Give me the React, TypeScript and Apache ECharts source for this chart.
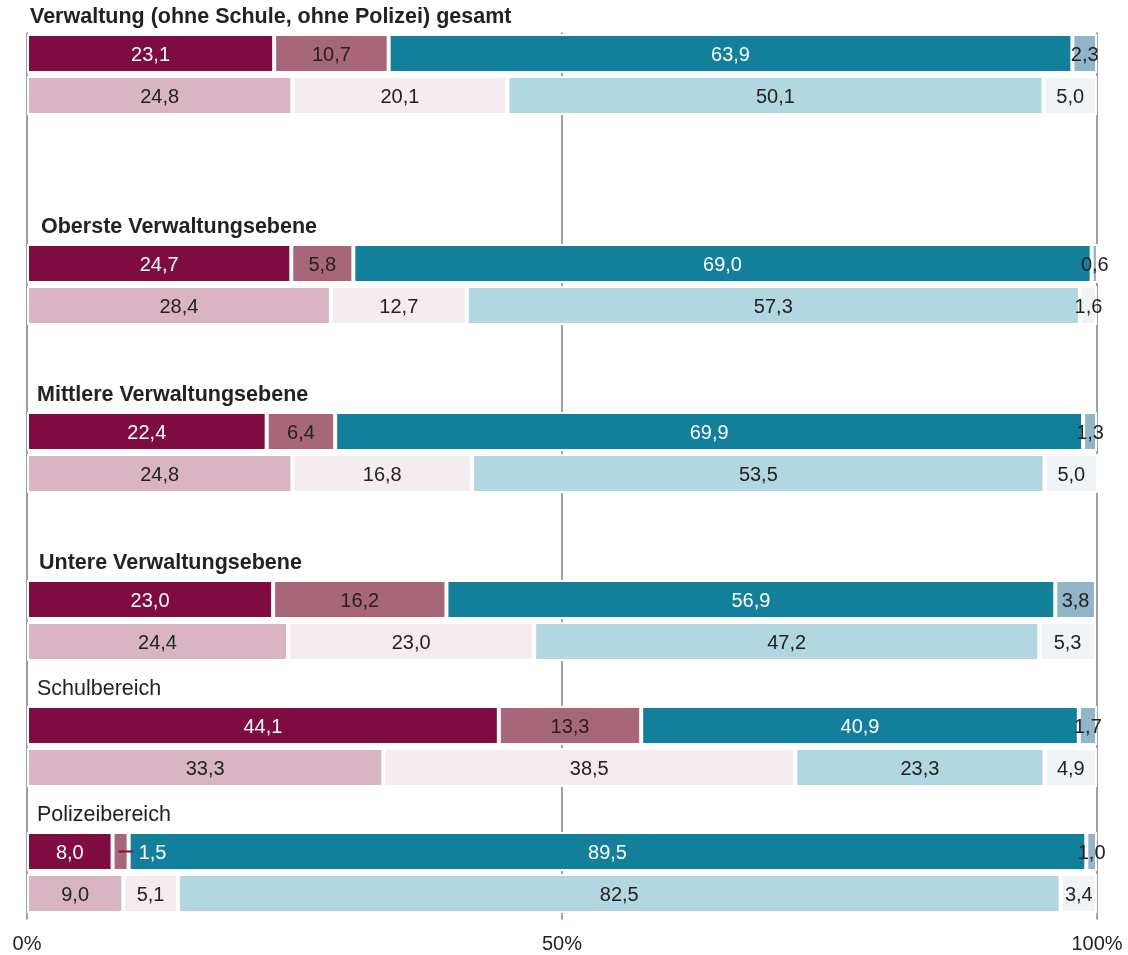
import React, { useEffect, useRef } from "react";
import * as echarts from "echarts";

// ---- data ----
const groupNames = [
  "Verwaltung (ohne Schule, ohne Polizei) gesamt",
  "Oberste Verwaltungsebene",
  "Mittlere Verwaltungsebene",
  "Untere Verwaltungsebene",
  "Schulbereich",
  "Polizeibereich",
];
const groupBold = [true, true, true, true, false, false];

// upper (dark) bar of each group, segments 1..4
const upperSeg1 = [23.1, 24.7, 22.4, 23.0, 44.1, 8.0];
const upperSeg2 = [10.7, 5.8, 6.4, 16.2, 13.3, 1.5];
const upperSeg3 = [63.9, 69.0, 69.9, 56.9, 40.9, 89.5];
const upperSeg4 = [2.3, 0.6, 1.3, 3.8, 1.7, 1.0];

// lower (light) bar of each group, segments 1..4
const lowerSeg1 = [24.8, 28.4, 24.8, 24.4, 33.3, 9.0];
const lowerSeg2 = [20.1, 12.7, 16.8, 23.0, 38.5, 5.1];
const lowerSeg3 = [50.1, 57.3, 53.5, 47.2, 23.3, 82.5];
const lowerSeg4 = [5.0, 1.6, 5.0, 5.3, 4.9, 3.4];

const xTicks = [0, 50, 100];

// ---- layout / style ----
const blankSlotsBefore = [0, 3, 2, 2, 1, 1];
const headingPadLeft = [0, 11, 7, 9, 7, 7];
const FONT = "'Liberation Sans', Arial, Helvetica, sans-serif";
const TEXT = "#222222";
const upperColors = ["#7f0c40", "#a86679", "#127f9b", "#93b5c9"];
const lowerColors = ["#d9b5c4", "#f4ecef", "#b3d7e0", "#f0f4f7"];
const upperText = ["#ffffff", TEXT, "#ffffff", TEXT];
const lowerText = [TEXT, TEXT, TEXT, TEXT];

const fmt = (v: number) => v.toFixed(1).replace(".", ",");

export default function App() {
  const ref = useRef<HTMLDivElement>(null);

  useEffect(() => {
    if (!ref.current) return;
    const chart = echarts.init(ref.current, undefined, { renderer: "svg" });

    const upper = [upperSeg1, upperSeg2, upperSeg3, upperSeg4];
    const lower = [lowerSeg1, lowerSeg2, lowerSeg3, lowerSeg4];

    type Slot = { kind: "blank" } | { kind: "upper" | "lower"; g: number };
    const slots: Slot[] = [];
    groupNames.forEach((_, g) => {
      for (let i = 0; i < blankSlotsBefore[g]; i++) slots.push({ kind: "blank" });
      slots.push({ kind: "upper", g });
      slots.push({ kind: "lower", g });
    });

    const categories = slots.map((_, i) => "s" + i);

    const rich: Record<string, any> = {};
    groupNames.forEach((_, g) => {
      rich["h" + g] = {
        fontFamily: FONT,
        fontSize: 21.5,
        lineHeight: 24,
        fontWeight: groupBold[g] ? "bold" : "normal",
        color: TEXT,
        padding: [0, 0, 51, headingPadLeft[g]],
      };
    });

    const series = [0, 1, 2, 3].map((s) => ({
      type: "bar",
      stack: "total",
      barWidth: 39,
      itemStyle: { borderColor: "#ffffff", borderWidth: 2 },
      label: {
        show: true,
        position: "inside",
        fontFamily: FONT,
        fontSize: 20,
        formatter: (p: any) => fmt(p.value),
      },
      data: slots.map((sl) => {
        if (sl.kind === "blank") return "-";
        const isUpper = sl.kind === "upper";
        const v = (isUpper ? upper : lower)[s][sl.g];
        const item: any = {
          value: v,
          itemStyle: { color: (isUpper ? upperColors : lowerColors)[s] },
          label: { color: (isUpper ? upperText : lowerText)[s] },
        };
        if (isUpper && s === 1 && v < 3) {
          item.label = {
            position: "right",
            distance: -10,
            formatter: "{ln| }{v|" + fmt(v) + "}",
            rich: {
              ln: { width: 14, height: 2, backgroundColor: upperColors[0] },
              v: { color: "#ffffff", fontSize: 20, fontFamily: FONT, padding: [0, 0, 0, 6] },
            },
          };
        }
        return item;
      }),
    }));

    chart.setOption({
      animation: false,
      grid: {
        left: 27,
        width: 1070,
        top: 32.5,
        height: 882,
        containLabel: false,
        outerBoundsMode: "none",
      },
      xAxis: {
        type: "value",
        min: xTicks[0],
        max: xTicks[xTicks.length - 1],
        interval: xTicks[1] - xTicks[0],
        axisLine: { show: false },
        axisTick: { show: true, length: 5, lineStyle: { color: "#a0a0a0", width: 2 } },
        splitLine: { show: true, lineStyle: { color: "#a0a0a0", width: 2 } },
        axisLabel: {
          formatter: "{value}%",
          fontFamily: FONT,
          fontSize: 20,
          color: TEXT,
          margin: 18,
        },
      },
      yAxis: {
        type: "category",
        inverse: true,
        data: categories,
        axisLine: { show: false },
        axisTick: { show: false },
        splitLine: { show: false },
        axisLabel: {
          inside: true,
          interval: 0,
          margin: 3,
          verticalAlign: "bottom",
          align: "left",
          formatter: (_v: string, idx: number) => {
            const sl = slots[idx];
            if (sl && sl.kind === "upper") return "{h" + sl.g + "|" + groupNames[sl.g] + "}";
            return "";
          },
          rich,
        },
        z: 10,
      },
      series,
    });

    return () => chart.dispose();
  }, []);

  return (
    <div
      ref={ref}
      style={{ position: "fixed", left: 0, top: 0, width: 1128, height: 955 }}
    />
  );
}
